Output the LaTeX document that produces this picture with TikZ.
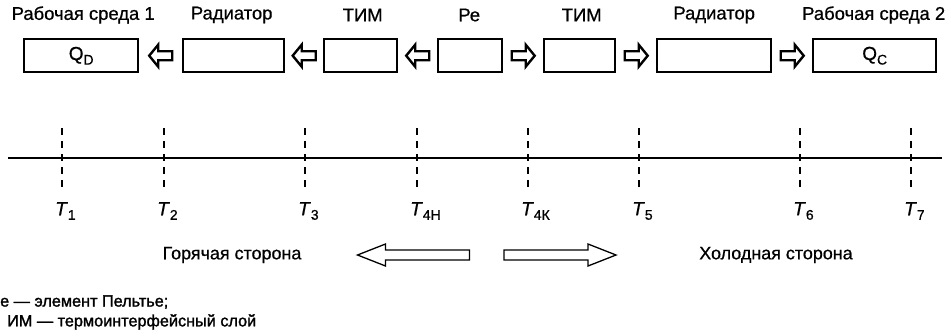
\documentclass[tikz,border=0pt]{standalone}
\usepackage{fontspec}
\setmainfont{Liberation Sans}[FakeBold=0.7]
\newfontfamily\notefont{Liberation Sans}[FakeBold=1.6]
\usetikzlibrary{calc}
\newcommand{\mysub}[1]{\raisebox{-4.5bp}{\fontsize{14}{16}\selectfont #1}}
\begin{document}
\begin{tikzpicture}[x=1bp,y=1bp,
  box/.style={draw,line width=2.4bp,minimum height=33bp,inner sep=0pt,anchor=north west},
  lbl/.style={font=\fontsize{18.5}{21}\selectfont,inner sep=0pt},
  tlbl/.style={font=\fontsize{19}{22}\selectfont,inner sep=0pt},
  side/.style={font=\fontsize{18}{21}\selectfont,inner sep=0pt},
  note/.style={font=\notefont\fontsize{16.3}{18}\selectfont,inner sep=0pt,anchor=west},
  blk/.style={draw,line width=2.4bp,line join=miter},
  big/.style={draw,line width=1.3bp,line join=miter},
  tick/.style={line width=1.6bp,dash pattern=on 7bp off 6bp},
  larrow/.pic={\draw[blk] (-11.5,0) -- (-2.5,11) -- (-2.5,4.5) -- (11.5,4.5) -- (11.5,-4.5) -- (-2.5,-4.5) -- (-2.5,-11) -- cycle;},
  rarrow/.pic={\draw[blk] (11.5,0) -- (2.5,11) -- (2.5,4.5) -- (-11.5,4.5) -- (-11.5,-4.5) -- (2.5,-4.5) -- (2.5,-11) -- cycle;},
  bigl/.pic={\draw[big] (-56,0) -- (-28,11) -- (-28,5) -- (56,5) -- (56,-5) -- (-28,-5) -- (-28,-11) -- cycle;},
  bigr/.pic={\draw[big] (56,0) -- (28,11) -- (28,5) -- (-56,5) -- (-56,-5) -- (28,-5) -- (28,-11) -- cycle;}
]
\useasboundingbox (0,0) rectangle (951,-335);
% boxes
\node[box,minimum width=114bp] (b1) at (23,-38) {\fontsize{19}{22}\selectfont Q\mysub{D}};
\node[box,minimum width=101bp] (b2) at (182,-38) {};
\node[box,minimum width=73bp]  (b3) at (323,-38) {};
\node[box,minimum width=64bp]  (b4) at (437,-38) {};
\node[box,minimum width=71bp]  (b5) at (543,-38) {};
\node[box,minimum width=114bp] (b6) at (656,-38) {};
\node[box,minimum width=123bp] (b7) at (812,-38) {\fontsize{19}{22}\selectfont Q\mysub{C}};
% labels
\node[lbl] (l1) at ($(b1.north)+(2,23)$) {Рабочая среда 1};
\node[lbl] (l2) at ($(b2.north)+(-2,23)$) {Радиатор};
\node[lbl] (l3) at ($(b3.north)+(2,23)$) {ТИМ};
\node[lbl] (l4) at ($(b4.north)+(-1,23)$) {Ре};
\node[lbl] (l5) at ($(b5.north)+(2,23)$) {ТИМ};
\node[lbl] (l6) at ($(b6.north)+(0,23)$) {Радиатор};
\node[lbl] (l7) at ($(b7.north)+(-1,23)$) {Рабочая среда 2};
% block arrows
\pic at ($(b1.east)!0.5!(b2.west)$) {larrow};
\pic at ($(b2.east)!0.5!(b3.west)$) {larrow};
\pic at ($(b3.east)!0.5!(b4.west)$) {larrow};
\pic at ($(b4.east)!0.5!(b5.west)$) {rarrow};
\pic at ($(b5.east)!0.5!(b6.west)$) {rarrow};
\pic at ($(b6.east)!0.5!(b7.west)$) {rarrow};
% axis
\coordinate (a0) at (8,-158);
\coordinate (a1) at (942,-158);
\draw[line width=2.6bp] (a0) -- (a1);
\foreach \x/\n/\s in {62/1/1,164/2/2,305/3/3,417/4/{4Н},528/5/{4К},639/6/5,800/7/6,911/8/7}{
  \coordinate (t\n) at (\x,-128);
  \coordinate (u\n) at (\x,-192);
  \draw[tick] (t\n) -- (u\n);
  \node[tlbl,anchor=west] (T\n) at (\x-7,-211) {\textit{T}\mysub{\s}};
}
% bottom
\node[side] (hot) at (232,-255) {Горячая сторона};
\node[side] (cold) at (776,-255) {Холодная сторона};
\pic at (413.5,-255) {bigl};
\pic at (560,-255) {bigr};
\node[note] (n1) at (0,-302) {е — элемент Пельтье;};
\node[note] (n2) at (7,-322) {ИМ — термоинтерфейсный слой};
\end{tikzpicture}
\end{document}
